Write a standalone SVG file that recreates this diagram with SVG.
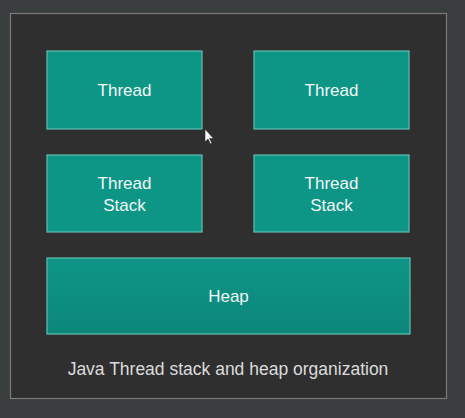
<svg xmlns="http://www.w3.org/2000/svg" width="465" height="418" viewBox="0 0 465 418">
<style>
.box{fill:#0d9586;stroke:#5fc0b2;stroke-width:1.2}
.t{font-family:"Liberation Sans",Arial,sans-serif;font-size:17px;fill:#f2f7f6;text-anchor:middle}
.cap{font-family:"Liberation Sans",Arial,sans-serif;font-size:17.5px;fill:#dcdcdc;text-anchor:middle}
</style>
<defs>
<linearGradient id="hg" x1="0" y1="0" x2="0" y2="1">
<stop offset="0" stop-color="#0e9586"/>
<stop offset="1" stop-color="#0b877a"/>
</linearGradient>
</defs>
<rect x="0" y="0" width="465" height="418" fill="#3a3d3e"/>
<rect id="frame" x="10.5" y="13.5" width="436" height="385" fill="#2f2f2f" stroke="#7a7a7a" stroke-width="1.2"/>
<g id="thread1"><rect class="box" x="47" y="51" width="155" height="78"/><text class="t" x="124.5" y="96">Thread</text></g>
<g id="thread2"><rect class="box" x="254" y="51" width="155" height="78"/><text class="t" x="331.5" y="96">Thread</text></g>
<g id="stack1"><rect class="box" x="47" y="155" width="155" height="77"/><text class="t" x="124.5" y="189">Thread</text><text class="t" x="124.5" y="211">Stack</text></g>
<g id="stack2"><rect class="box" x="254" y="155" width="155" height="77"/><text class="t" x="331.5" y="189">Thread</text><text class="t" x="331.5" y="211">Stack</text></g>
<g id="heap"><rect class="box" x="47" y="258" width="363" height="76" style="fill:url(#hg)"/><text class="t" x="228.5" y="302">Heap</text></g>
<g id="connectors"></g>
<text class="cap" x="228" y="375">Java Thread stack and heap organization</text>
<path d="M205,129 L205,142 L208,139 L210.5,144 L212,143.3 L209.6,138.5 L213.5,138.5 Z" fill="#ffffff" stroke="#222" stroke-width="0.6"/>
</svg>
